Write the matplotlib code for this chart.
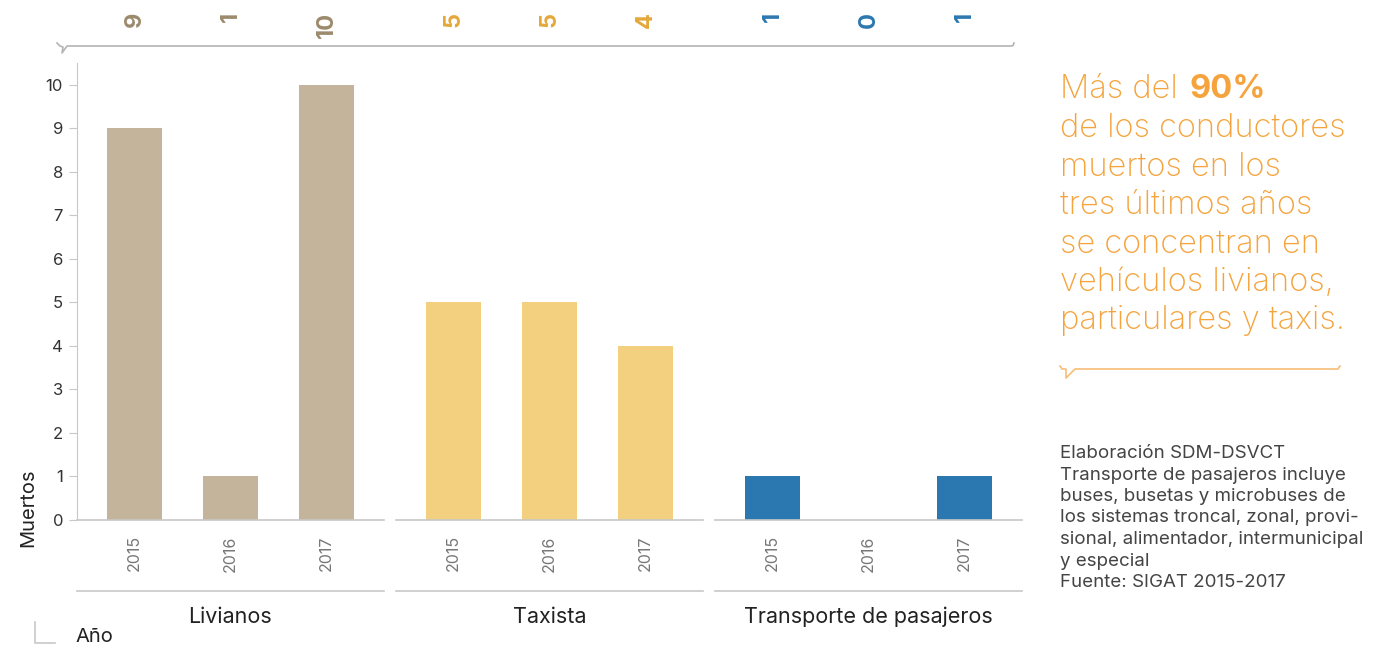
import matplotlib
matplotlib.use("Agg")
import matplotlib.pyplot as plt
import matplotlib.transforms as mtransforms
from matplotlib.lines import Line2D

# ---- data ----
groups = ["Livianos", "Taxista", "Transporte de pasajeros"]
years = ["2015", "2016", "2017"]
livianos = [9, 1, 10]
taxista = [5, 5, 4]
transporte = [1, 0, 1]
series = [livianos, taxista, transporte]
bar_colors = ["#c4b49b", "#f3d07f", "#2b78b0"]
label_colors = ["#9c8a6c", "#e4a83a", "#2b78b0"]
y_ticks = [0, 1, 2, 3, 4, 5, 6, 7, 8, 9, 10]

W, H = 1375, 649
plt.rcParams['font.family'] = ['Inter', 'DejaVu Sans']
fig = plt.figure(figsize=(W / 100, H / 100), dpi=100)

def fx(px):
    return px / W

def fy(py):
    return 1 - py / H

ax_left = [77, 396, 715]
ax_w = 307
ax_top, ax_bot = 63, 520
axes = []
for i, (vals, col) in enumerate(zip(series, bar_colors)):
    ax = fig.add_axes([fx(ax_left[i]), fy(ax_bot), ax_w / W, (ax_bot - ax_top) / H])
    x = list(range(len(years)))
    ax.bar(x, vals, width=0.57, color=col)
    ax.set_xlim(-0.6, 2.6)
    ax.set_ylim(0, 10.5)
    for s in ["top", "right"]:
        ax.spines[s].set_visible(False)
    ax.spines["bottom"].set_color("#c8c8c8")
    ax.spines["bottom"].set_linewidth(1.2)
    ax.set_xticks(x)
    ax.set_xticklabels(years, rotation=90, color="#777777", fontsize=11.5)
    ax.tick_params(axis="x", length=0, pad=11)
    if i == 0:
        ax.spines["left"].set_color("#c8c8c8")
        ax.set_yticks(y_ticks)
        ax.tick_params(axis="y", colors="#c8c8c8", labelcolor="#333333",
                       labelsize=12, length=6, pad=4)
    else:
        ax.spines["left"].set_visible(False)
        ax.set_yticks([])
    # second horizontal line below year labels
    ax.plot([0, 1], [-71 / (ax_bot - ax_top), -71 / (ax_bot - ax_top)],
            transform=ax.transAxes, color="#c8c8c8", lw=1.2, clip_on=False)
    # group name
    ax.text(0.5, fy(617), groups[i],
            transform=mtransforms.blended_transform_factory(ax.transAxes, fig.transFigure),
            ha="center", va="center", fontsize=15.5, color="#222222")
    # top value labels
    tr = mtransforms.blended_transform_factory(ax.transData, fig.transFigure)
    for xi, v in zip(x, vals):
        ax.text(xi, fy(12), str(v), transform=tr, rotation=90, ha="center",
                va="top", fontsize=17, fontweight="bold", color=label_colors[i])
    axes.append(ax)

# y label
fig.text(fx(28), fy(508), "Muertos", rotation=90, ha="center", va="center",
         fontsize=14.5, color="#222222")

# Año mark
fig.add_artist(Line2D([fx(35), fx(35), fx(55)], [fy(622), fy(643), fy(643)],
                      color="#c8c8c8", lw=1.2))
fig.text(fx(75), fy(637), "Año", ha="left", va="center", fontsize=14.5, color="#222222")

# top bracket line
fig.add_artist(Line2D([fx(57), fx(60), fx(63), fx(62), fx(67), fx(1011), fx(1013), fx(1014)],
                      [fy(43), fy(46), fy(47), fy(53), fy(46), fy(46), fy(45.5), fy(43)],
                      color="#b4b4b4", lw=1.2))

# right orange text
orange = "#f5a33c"
lines = ["de los conductores", "muertos en los", "tres últimos años",
         "se concentran en", "vehículos livianos,", "particulares y taxis."]
t0 = fig.text(fx(1060), fy(98), "Más del ", ha="left", va="baseline", fontsize=23.5,
              color=orange, fontweight="light")
fig.canvas.draw()
bb = t0.get_window_extent(renderer=fig.canvas.get_renderer())
fig.text(bb.x1 / W + fx(3), fy(98), "90%", ha="left", va="baseline", fontsize=23.5,
         color=orange, fontweight="bold")
for k, t in enumerate(lines):
    fig.text(fx(1060), fy(137 + 38.5 * k), t, ha="left", va="baseline", fontsize=23.5,
             color=orange, fontweight="light")

# orange bracket
fig.add_artist(Line2D([fx(1060), fx(1062), fx(1066), fx(1066), fx(1075), fx(1338), fx(1340)],
                      [fy(366), fy(369), fy(369), fy(378), fy(369), fy(369), fy(366)],
                      color="#f7bd78", lw=1.2))

# notes
notes = ["Elaboración SDM-DSVCT",
         "Transporte de pasajeros incluye",
         "buses, busetas y microbuses de",
         "los sistemas troncal, zonal, provi-",
         "sional, alimentador, intermunicipal",
         "y especial",
         "Fuente: SIGAT 2015-2017"]
for k, t in enumerate(notes):
    fig.text(fx(1060), fy(458 + 21.5 * k), t, ha="left", va="baseline", fontsize=13.5,
             color="#444444")

fig.savefig("out.png", dpi=100)
